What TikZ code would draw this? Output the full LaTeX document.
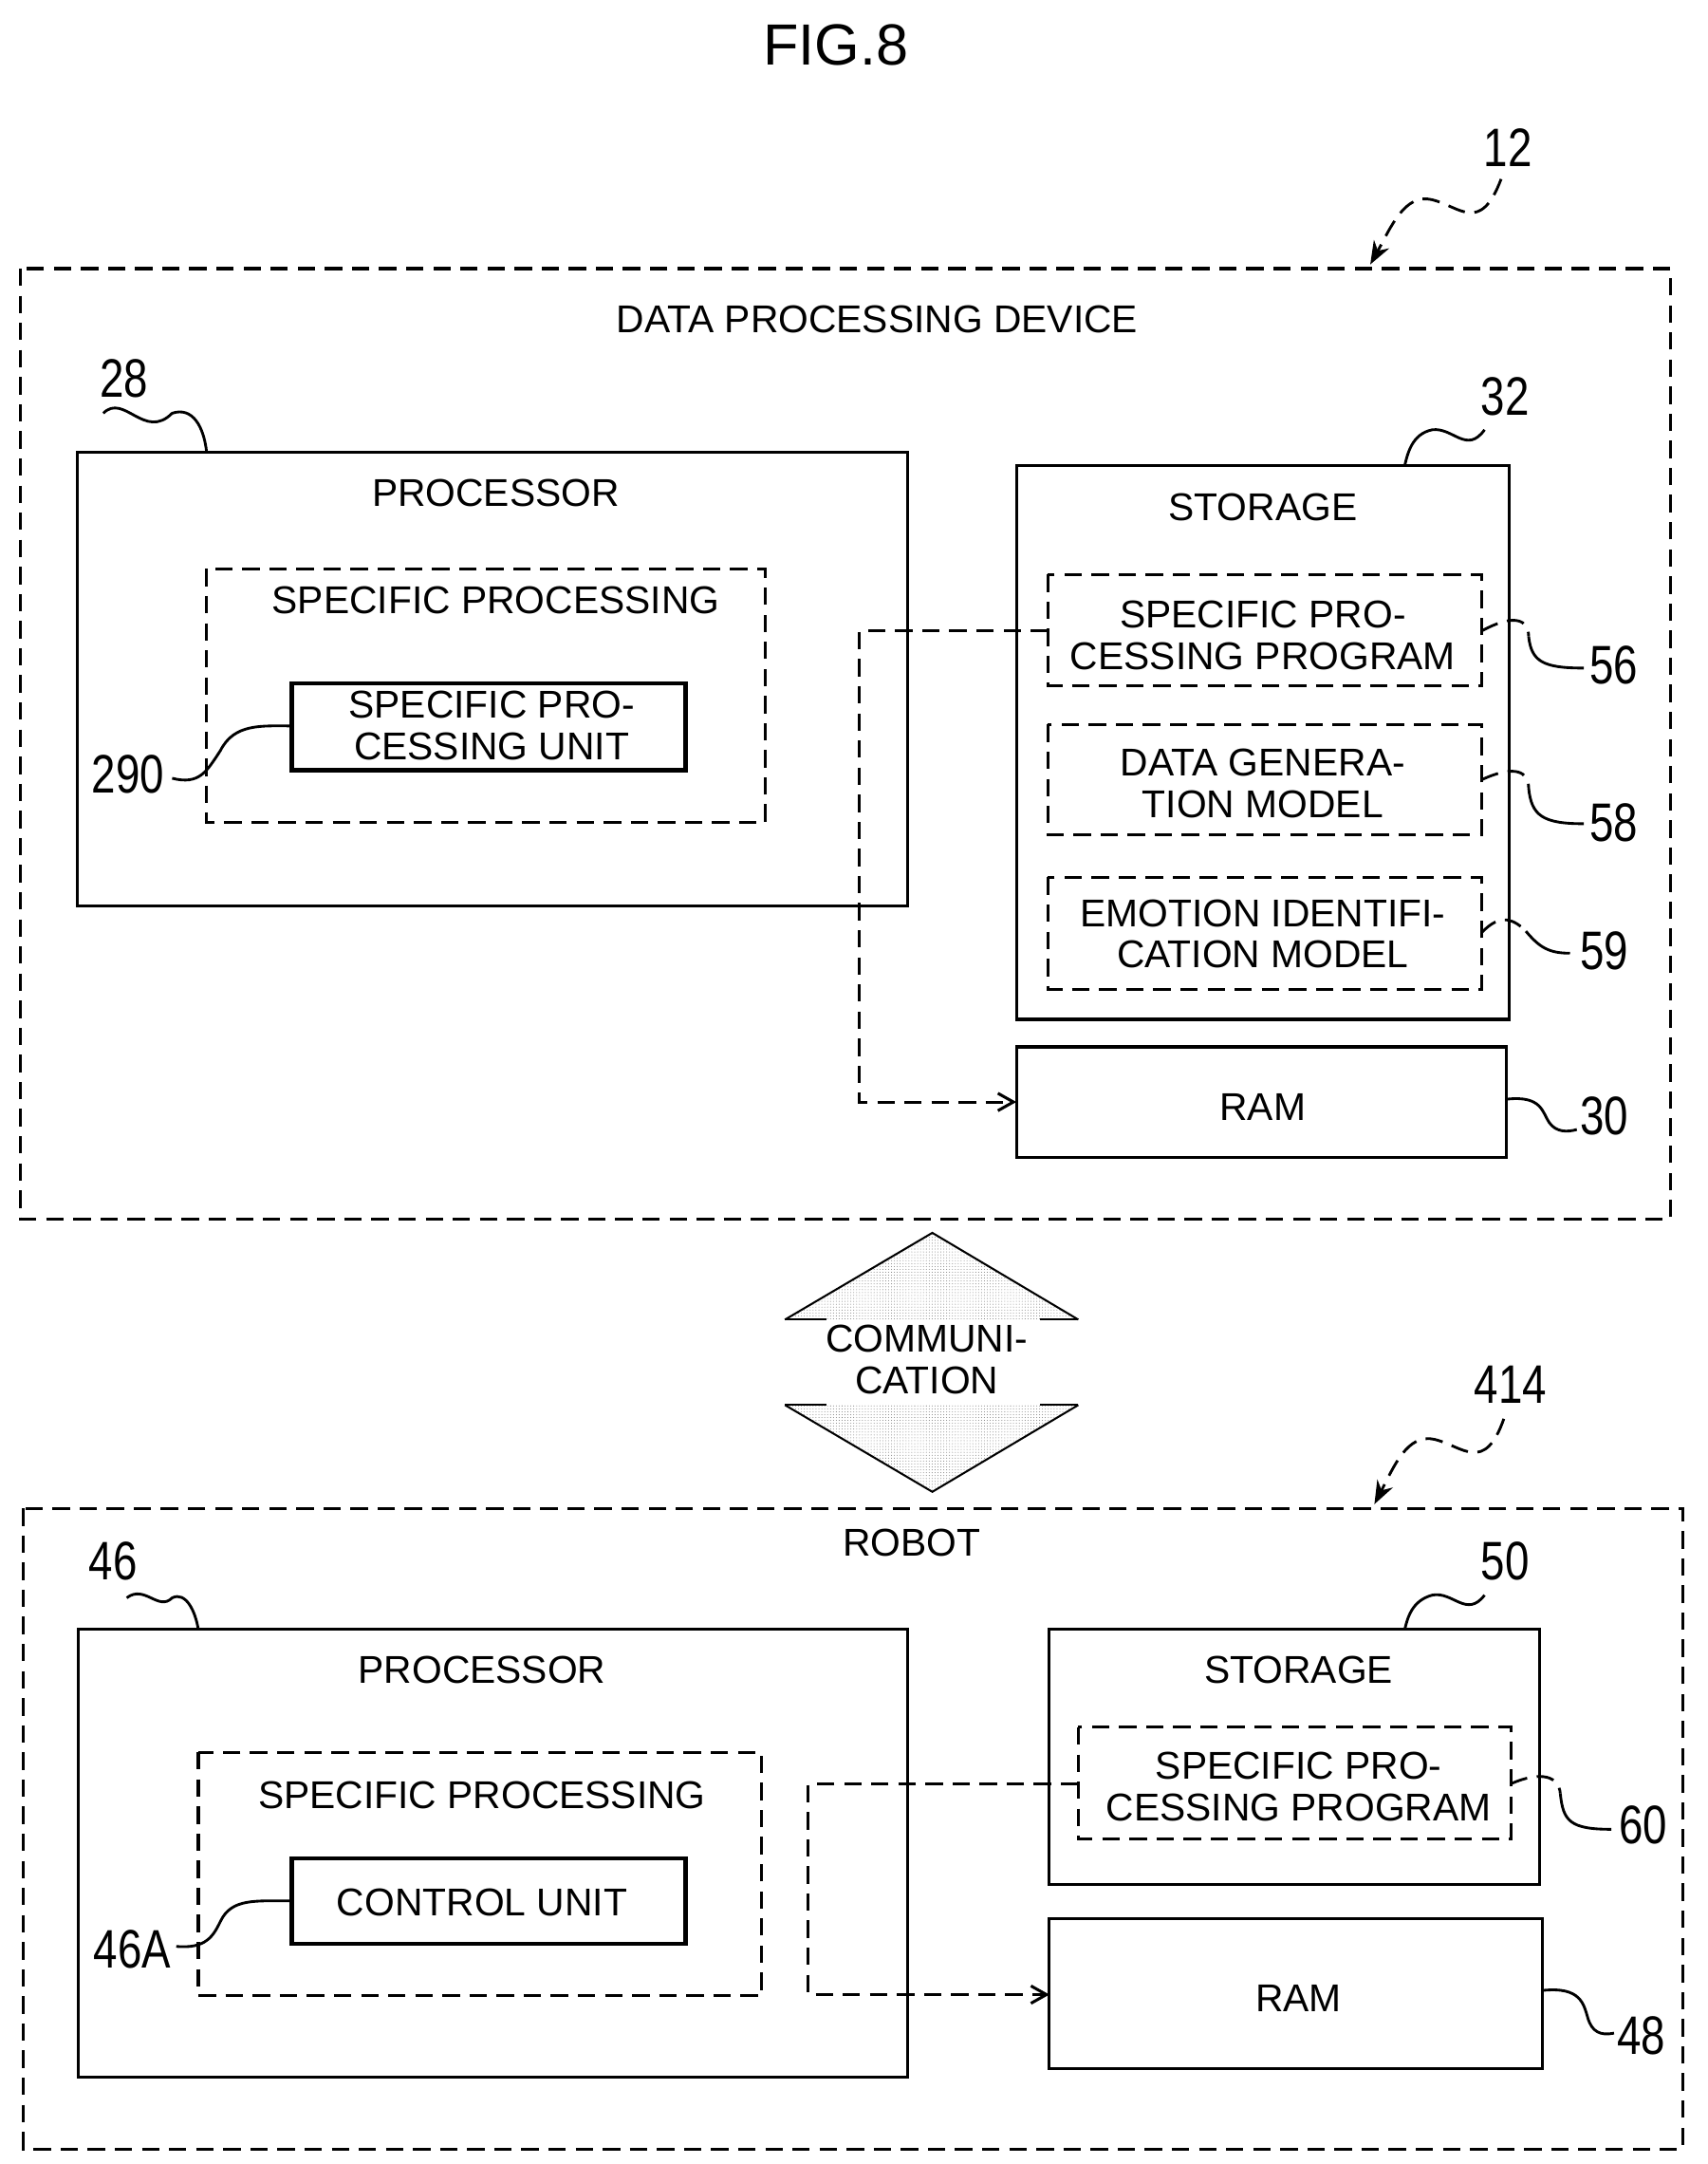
\documentclass[tikz,border=0pt]{standalone}
\usepackage{fontspec}
\setmainfont{Liberation Sans}
\usetikzlibrary{arrows.meta,patterns}
\begin{document}
\begin{tikzpicture}[x=0.05cm,y=-0.05cm,line width=3pt,
 box/.style={draw},
 dbox/.style={draw,dash pattern=on 18pt off 10pt},
 thick box/.style={draw,line width=4.5pt},
 txt/.style={font=\fontsize{40}{43}\selectfont,align=center,inner sep=0},
 num/.style={font=\fontsize{56}{56}\selectfont,inner sep=0,xscale=0.8},
 lead/.style={line width=2.8pt},
 dl/.style={dash pattern=on 18pt off 10pt}]
\useasboundingbox (0,0) rectangle (1240,1571);
\node[font=\fontsize{60}{62}\selectfont] (fig) at (607,33) {FIG.8};
% device 12
\draw[dbox] (15,195) rectangle (1213,885);
\node[txt] (dpd) at (637,232) {DATA PROCESSING DEVICE};
\node[num] (n12) at (1095,107) {12};
\coordinate (a12) at (995,192);
\draw[lead,dl,-{Stealth[length=24pt,width=18pt]}] (1090,130) .. controls (1075,170) and (1060,150) .. (1040,145) .. controls (1020,140) and (1010,165) .. (a12);
\draw[box] (56,328) rectangle (659,658);
\node[txt] at (360,358) {PROCESSOR};
\node[num] (n28) at (90,275) {28};
\draw[lead] (75,300) .. controls (90,285) and (105,320) .. (125,300) .. controls (140,295) and (148,310) .. (150,328);
\draw[dbox] (150,413) rectangle (556,597);
\node[txt] at (360,436) {SPECIFIC PROCESSING};
\draw[thick box] (212,496) rectangle (498,559);
\node[txt] (u290) at (357,527) {SPECIFIC PRO-\\CESSING UNIT};
\node[num] (n290) at (93,562) {290};
\draw[lead] (125,565) .. controls (145,570) and (150,560) .. (160,545) .. controls (170,525) and (190,527) .. (212,527);
\draw[box] (738,338) rectangle (1096,740);
\node[txt] at (917,368) {STORAGE};
\node[num] (n32) at (1093,288) {32};
\draw[lead] (1078,312) .. controls (1065,330) and (1055,310) .. (1040,312) .. controls (1025,315) and (1022,330) .. (1020,338);
\draw[dbox] (761,417) rectangle (1076,498);
\node[txt] at (917,461) {SPECIFIC PRO-\\CESSING PROGRAM};
\draw[dbox] (761,526) rectangle (1076,606);
\node[txt] at (917,569) {DATA GENERA-\\TION MODEL};
\draw[dbox] (761,637) rectangle (1076,718);
\node[txt] at (917,678) {EMOTION IDENTIFI-\\CATION MODEL};
\node[num] (n56) at (1172,483) {56};
\draw[lead,dl] (1076,458) .. controls (1100,445) and (1110,450) .. (1110,462);
\draw[lead] (1110,462) .. controls (1112,480) and (1120,485) .. (1150,485);
\node[num] (n58) at (1172,597) {58};
\draw[lead,dl] (1076,566) .. controls (1100,555) and (1110,560) .. (1110,572);
\draw[lead] (1110,572) .. controls (1112,592) and (1120,598) .. (1150,598);
\node[num] (n59) at (1165,690) {59};
\draw[lead,dl] (1076,677) .. controls (1090,662) and (1100,668) .. (1108,676);
\draw[lead] (1108,676) .. controls (1118,688) and (1125,692) .. (1140,692);
\draw[box] (738,760) rectangle (1094,840);
\node[txt] (ram1) at (917,804) {RAM};
\node[num] (n30) at (1165,810) {30};
\draw[lead] (1094,798) .. controls (1120,795) and (1120,808) .. (1125,815) .. controls (1130,822) and (1138,822) .. (1145,820);
\draw[dl,-{Straight Barb[length=16pt,width=18pt]}] (761,458) -- (624,458) -- (624,800) -- (738,800);
% communication
\fill[pattern=dots,pattern color=gray] (677,895) -- (783,958) -- (570,958) -- cycle;
\draw[line width=2pt] (570,958) -- (677,895) -- (783,958);
\fill[pattern=dots,pattern color=gray] (677,1083) -- (783,1020) -- (570,1020) -- cycle;
\draw[line width=2pt] (570,1020) -- (677,1083) -- (783,1020);
\draw[line width=2pt] (570,958) -- (600,958) (755,958) -- (783,958) (570,1020) -- (600,1020) (755,1020) -- (783,1020);
\node[txt,fill=white,inner sep=3pt] (comm) at (673,987) {COMMUNI-\\CATION};
% robot
\draw[dbox] (17,1095) rectangle (1222,1560);
\node[txt] at (662,1120) {ROBOT};
\node[num] (n414) at (1097,1005) {414};
\coordinate (a414) at (998,1092);
\draw[lead,dl,-{Stealth[length=24pt,width=18pt]}] (1092,1030) .. controls (1078,1070) and (1062,1050) .. (1042,1045) .. controls (1022,1040) and (1012,1065) .. (a414);
\draw[box] (57,1183) rectangle (659,1508);
\node[txt] at (350,1212) {PROCESSOR};
\node[num] (n46) at (82,1133) {46};
\draw[lead] (92,1160) .. controls (105,1150) and (115,1170) .. (125,1160) .. controls (135,1155) and (142,1170) .. (144,1183);
\draw[dbox] (144,1272) rectangle (553,1449);
\node[txt] at (350,1303) {SPECIFIC PROCESSING};
\draw[thick box] (212,1349) rectangle (498,1411);
\node[txt] (cu) at (350,1381) {CONTROL UNIT};
\node[num] (n46A) at (96,1415) {46A};
\draw[lead] (128,1413) .. controls (150,1415) and (155,1405) .. (160,1395) .. controls (168,1378) and (185,1380) .. (212,1380);
\draw[box] (762,1183) rectangle (1118,1368);
\node[txt] at (943,1212) {STORAGE};
\node[num] (n50) at (1093,1133) {50};
\draw[lead] (1078,1158) .. controls (1065,1175) and (1055,1155) .. (1040,1158) .. controls (1025,1162) and (1022,1175) .. (1020,1183);
\draw[dbox] (783,1254) rectangle (1097,1335);
\node[txt] at (943,1297) {SPECIFIC PRO-\\CESSING PROGRAM};
\node[num] (n60) at (1193,1325) {60};
\draw[lead,dl] (1097,1295) .. controls (1120,1285) and (1132,1290) .. (1133,1302);
\draw[lead] (1133,1302) .. controls (1135,1322) and (1140,1328) .. (1170,1328);
\draw[box] (762,1393) rectangle (1120,1502);
\node[txt] (ram2) at (943,1451) {RAM};
\node[num] (n48) at (1192,1478) {48};
\draw[lead] (1120,1445) .. controls (1148,1442) and (1150,1455) .. (1153,1465) .. controls (1156,1475) and (1162,1478) .. (1172,1476);
\draw[dl,-{Straight Barb[length=16pt,width=18pt]}] (783,1295) -- (587,1295) -- (587,1448) -- (762,1448);
\end{tikzpicture}
\end{document}
